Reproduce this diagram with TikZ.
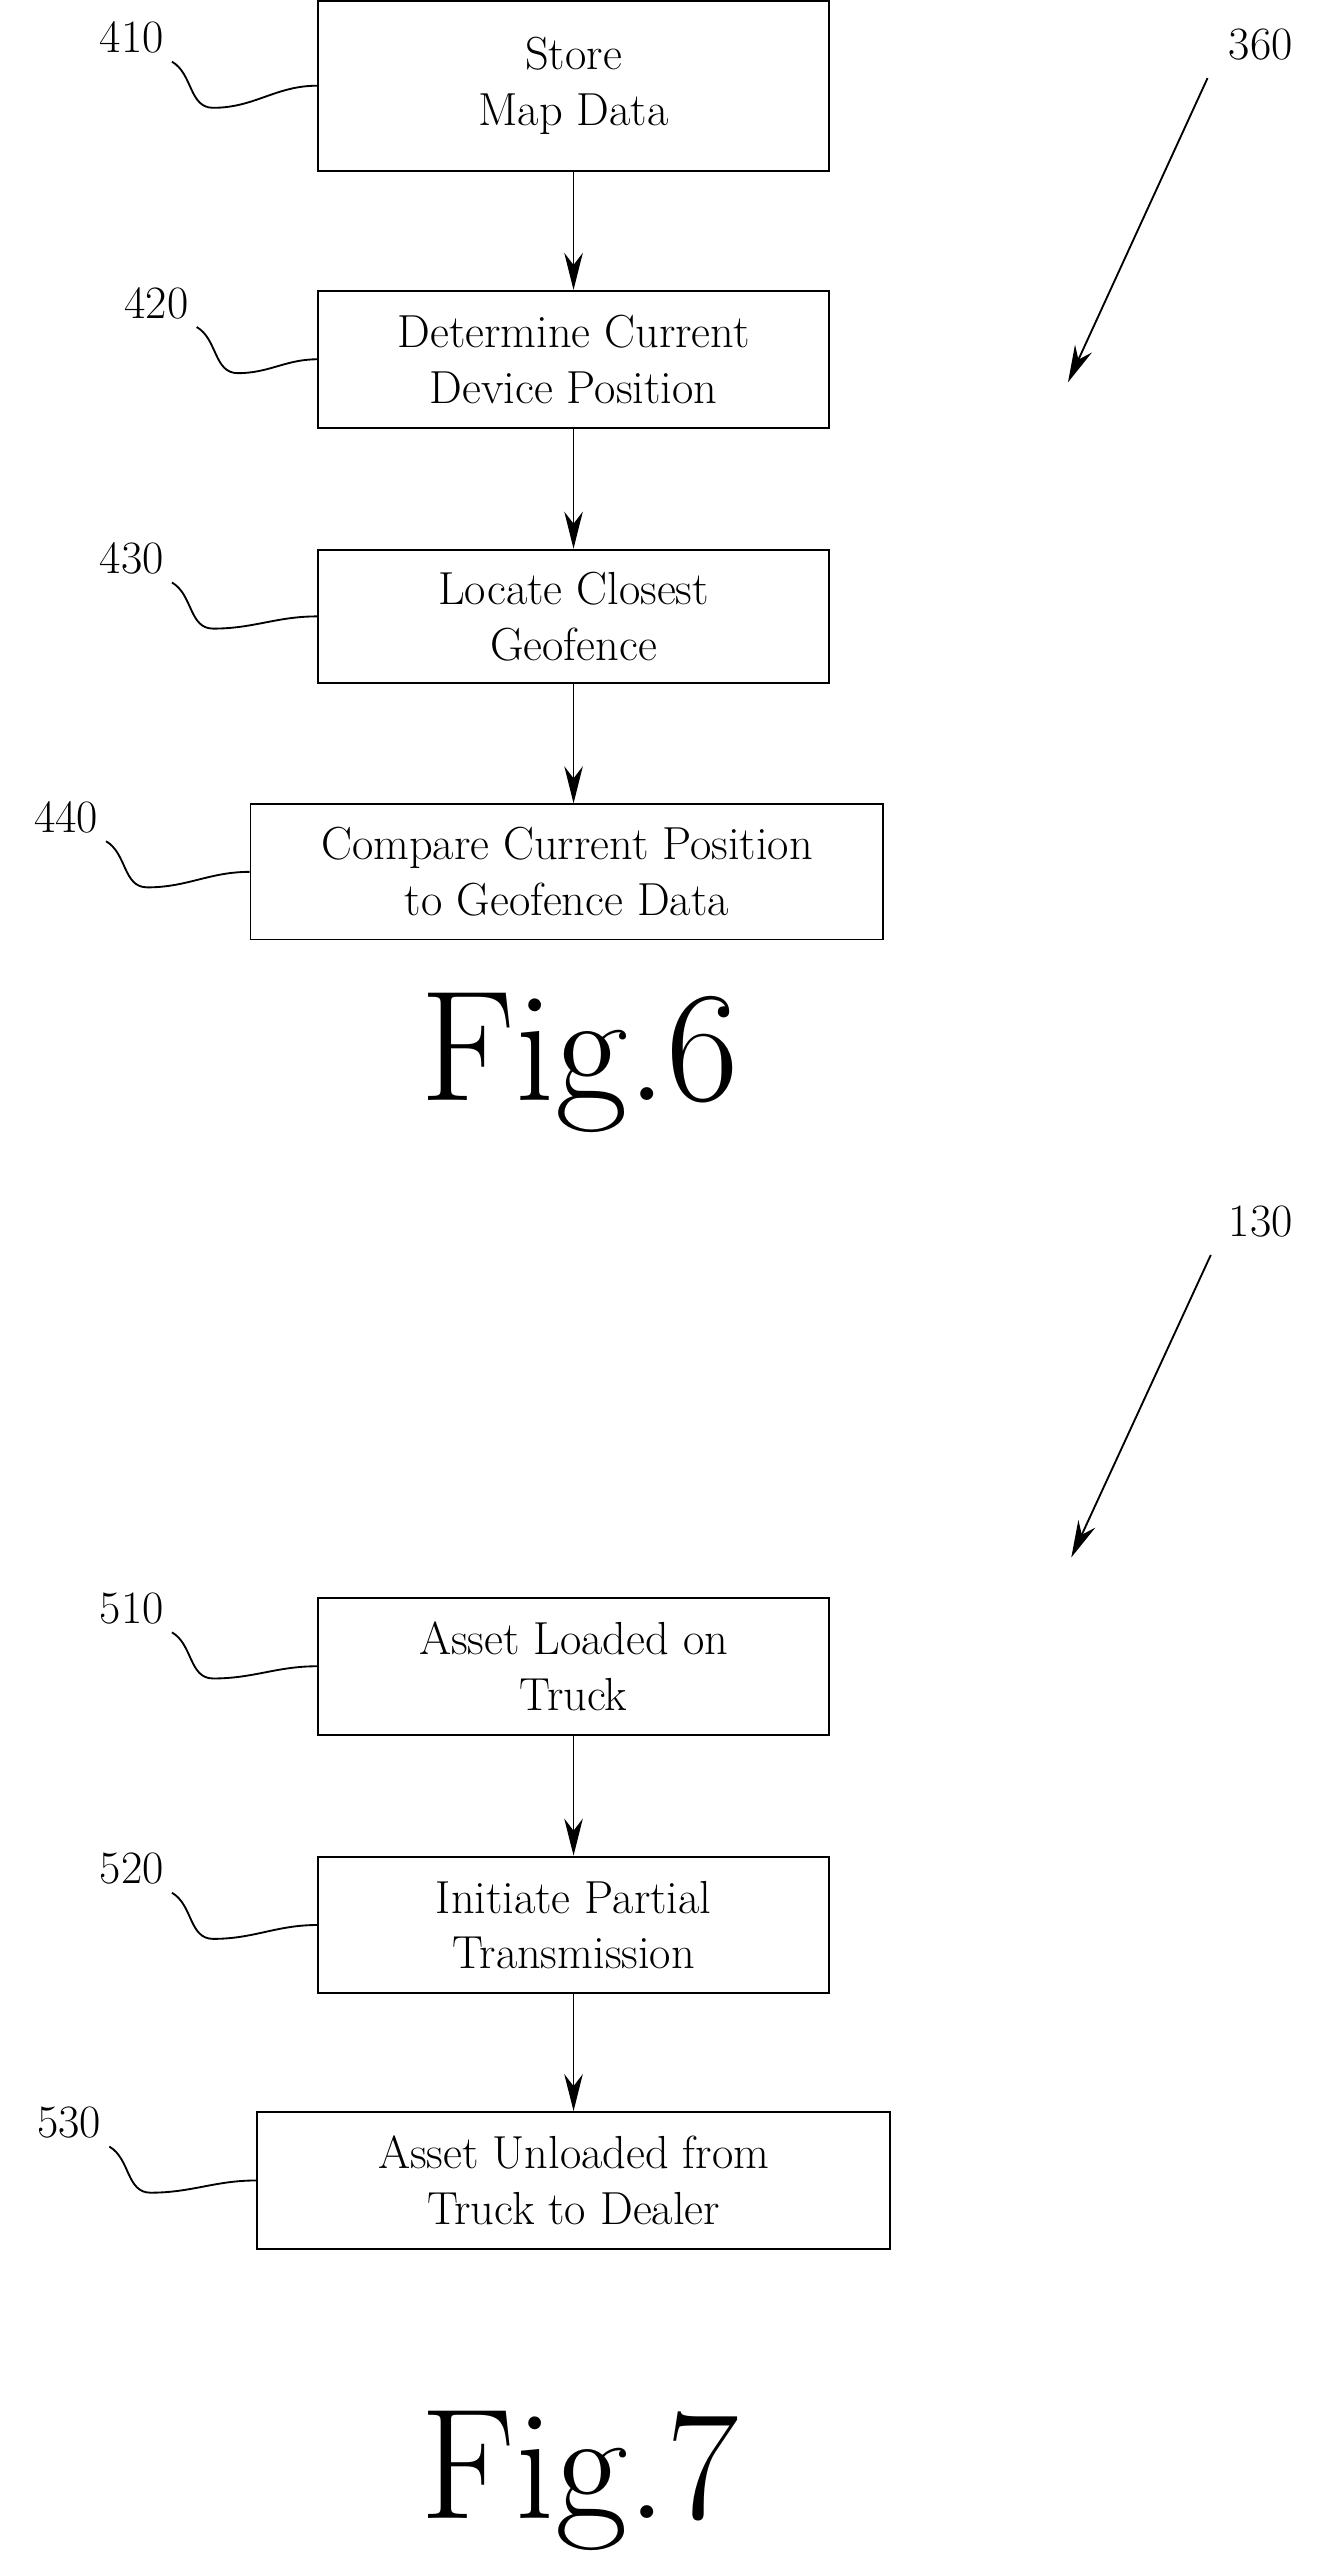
\documentclass[tikz,border=0pt]{standalone}
\usetikzlibrary{arrows.meta,positioning}
\begin{document}
\begin{tikzpicture}[x=0.025cm,y=-0.025cm,
  box/.style={draw,thick,align=center,font=\fontsize{20}{24}\selectfont},
  ref/.style={font=\fontsize{20}{24}\selectfont,anchor=base},
  fig/.style={font=\fontsize{68}{80}\selectfont},
  flow/.style={-{Stealth[length=16pt,width=8pt]},thick},
  lead/.style={thick}]
  \useasboundingbox (0,0) rectangle (800,1563);
  % Fig. 6
  \node[box,minimum width=310*0.025cm,minimum height=103*0.025cm] (s410) at (348,52) {Store\\Map Data};
  \node[box,minimum width=310*0.025cm,minimum height=83*0.025cm] (s420) at (348,218) {Determine Current\\Device Position};
  \node[box,minimum width=310*0.025cm,minimum height=81*0.025cm] (s430) at (348,374) {Locate Closest\\Geofence};
  \node[box,minimum width=384*0.025cm,minimum height=82*0.025cm] (s440) at (344,529) {Compare Current Position\\to Geofence Data};
  \draw[flow] (s410) -- (s420);
  \draw[flow] (s420) -- (s430);
  \draw[flow] (s430.south) -- (s430.south |- s440.north);
  \node[fig] (f6) at (352,645) {Fig.6};
  \node[ref] (r360) at (765,36) {360};
  \coordinate (t360) at (648,232);
  \draw[flow] (r360.south west) ++(-8,6) coordinate (h360) -- (t360);
  % Fig. 7
  \node[box,minimum width=310*0.025cm,minimum height=83*0.025cm] (s510) at (348,1011) {Asset Loaded on\\Truck};
  \node[box,minimum width=310*0.025cm,minimum height=83*0.025cm] (s520) at (348,1168) {Initiate Partial\\Transmission};
  \node[box,minimum width=384*0.025cm,minimum height=83*0.025cm] (s530) at (348,1323) {Asset Unloaded from\\Truck to Dealer};
  \draw[flow] (s510) -- (s520);
  \draw[flow] (s520.south) -- (s520.south |- s530.north);
  \node[fig] (f7) at (352,1505) {Fig.7};
  \node[ref] (r130) at (765,750) {130};
  \coordinate (t130) at (650,945);
  \draw[flow] (r130.south west) ++(-6,6) coordinate (h130) -- (t130);
  % reference numerals with lead lines
  \foreach \n/\x/\y/\bx in {410/80/32/s410,420/95/193/s420,430/80/348/s430,440/40/505/s440,510/80/985/s510,520/80/1143/s520,530/42/1297/s530}{
    \node[ref] (r\n) at (\x,\y) {\n};
    \draw[lead] (r\n.south east) to[out=-30,in=180] ++(25,28) coordinate (m\n)
      to[out=0,in=180] (\bx.west);
  }
\end{tikzpicture}
\end{document}
